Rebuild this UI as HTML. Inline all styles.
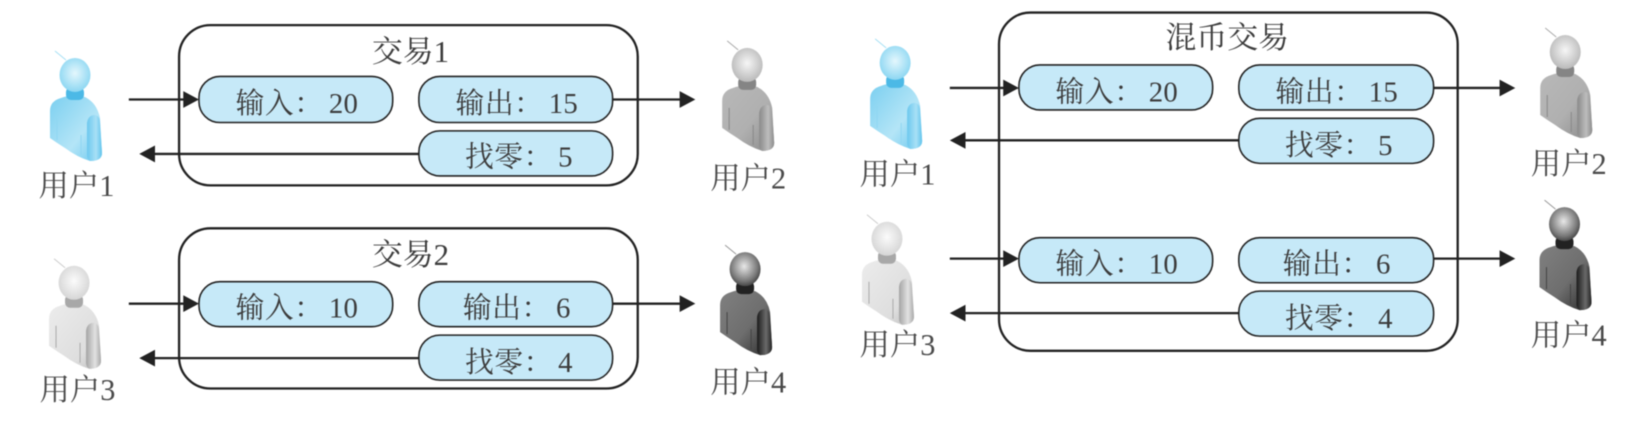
<!DOCTYPE html>
<html><head><meta charset="utf-8"><style>
html,body{margin:0;padding:0;background:#fff;width:1642px;height:435px;overflow:hidden}
svg{display:block;filter:blur(.45px)}
text{font-family:"Liberation Serif","Noto Serif CJK SC",serif;fill:#3c3c3c}
.l{font-size:27.5px}
.u{font-size:29px;fill:#4a4a4a;text-anchor:middle}
.t{font-size:29.5px;text-anchor:middle}
.c{fill:none;stroke:#222;stroke-width:2.2}
.p{fill:#c6e9f8;stroke:#222;stroke-width:1.5}
.a{stroke:#222;stroke-width:2.2;fill:none}
.h{fill:#222}
</style></head><body>
<svg width="1642" height="435" viewBox="0 0 1568 415.4" xmlns="http://www.w3.org/2000/svg">
<defs>
<radialGradient id="bh" cx=".5" cy=".45" r=".6"><stop offset="0" stop-color="#e4f7fd"/><stop offset="1" stop-color="#85d4f1"/></radialGradient>
<linearGradient id="bb" x1="0" y1="0" x2="1" y2="1"><stop offset="0" stop-color="#7bcff0"/><stop offset=".6" stop-color="#b4e5f7"/><stop offset="1" stop-color="#6cc8ee"/></linearGradient>
<linearGradient id="ba" x1="0" y1="0" x2="1" y2="0"><stop offset="0" stop-color="#6cc8ee"/><stop offset=".6" stop-color="#a8e0f6"/><stop offset="1" stop-color="#62c4ec"/></linearGradient>
<radialGradient id="gh" cx=".5" cy=".45" r=".6"><stop offset="0" stop-color="#f6f6f6"/><stop offset="1" stop-color="#b4b4b4"/></radialGradient>
<linearGradient id="gb" x1="0" y1="0" x2="1" y2="1"><stop offset="0" stop-color="#b8b8b8"/><stop offset=".55" stop-color="#b0b0b0"/><stop offset="1" stop-color="#8a8a8a"/></linearGradient>
<linearGradient id="ga" x1="0" y1="0" x2="1" y2="0"><stop offset="0" stop-color="#8a8a8a"/><stop offset=".6" stop-color="#bdbdbd"/><stop offset="1" stop-color="#8c8c8c"/></linearGradient>
<radialGradient id="lh" cx=".5" cy=".45" r=".6"><stop offset="0" stop-color="#fbfbfb"/><stop offset="1" stop-color="#d2d2d2"/></radialGradient>
<linearGradient id="lb" x1="0" y1="0" x2="1" y2="1"><stop offset="0" stop-color="#ececec"/><stop offset=".7" stop-color="#dedede"/><stop offset="1" stop-color="#bcbcbc"/></linearGradient>
<linearGradient id="la" x1="0" y1="0" x2="1" y2="0"><stop offset="0" stop-color="#a4a4a4"/><stop offset=".6" stop-color="#e2e2e2"/><stop offset="1" stop-color="#a8a8a8"/></linearGradient>
<radialGradient id="dh" cx=".47" cy=".42" r=".62"><stop offset="0" stop-color="#e8e8e8"/><stop offset=".7" stop-color="#787878"/><stop offset="1" stop-color="#3a3a3a"/></radialGradient>
<linearGradient id="db" x1="0" y1="0" x2="1" y2="1"><stop offset="0" stop-color="#808080"/><stop offset=".55" stop-color="#6e6e6e"/><stop offset="1" stop-color="#2a2a2a"/></linearGradient>
<linearGradient id="da" x1="0" y1="0" x2="1" y2="0"><stop offset="0" stop-color="#1c1c1c"/><stop offset=".6" stop-color="#6a6a6a"/><stop offset="1" stop-color="#222"/></linearGradient>

<path id="body" d="M-25,36 Q-25,26 -14,23 Q-6,20 0,21 L10,22 Q22,28 25,43 L27,78 Q27,86 15,86 Q2,82 -10,73 Q-18,68 -25,63 Z"/>
<path id="arm" d="M12,48 Q13,40 20,40 Q25,41 25,48 L27,78 Q27,86 15,86 Q12,84 12,80 Z"/>
<path id="seam" d="M-18,43V65M6,60V80" fill="none" stroke-width="1"/>
<g id="pb">
<line x1="-20" y1="-24" x2="-9" y2="-15" stroke="#a6e0f4" stroke-width="1"/>
<use href="#body" fill="url(#bb)"/><use href="#arm" fill="url(#ba)"/>
<use href="#seam" stroke="#8fd6f2"/>
<rect x="-9" y="12" width="18" height="13" rx="5" fill="#4cb9e6"/>
<ellipse cx="0" cy="0" rx="15.5" ry="17" fill="url(#bh)"/>
</g>
<g id="pg">
<line x1="-20" y1="-24" x2="-9" y2="-15" stroke="#aaa" stroke-width="1"/>
<use href="#body" fill="url(#gb)"/><use href="#arm" fill="url(#ga)"/>
<use href="#seam" stroke="#888"/>
<rect x="-9" y="12" width="18" height="13" rx="5" fill="#858585"/>
<ellipse cx="0" cy="0" rx="15.5" ry="17" fill="url(#gh)"/>
</g>
<g id="pl">
<line x1="-20" y1="-24" x2="-9" y2="-15" stroke="#ccc" stroke-width="1"/>
<use href="#body" fill="url(#lb)"/><use href="#arm" fill="url(#la)"/>
<use href="#seam" stroke="#aaa"/>
<rect x="-9" y="12" width="18" height="13" rx="5" fill="#a8a8a8"/>
<ellipse cx="0" cy="0" rx="15.5" ry="17" fill="url(#lh)"/>
</g>
<g id="pd">
<line x1="-20" y1="-24" x2="-9" y2="-15" stroke="#999" stroke-width="1"/>
<use href="#body" fill="url(#db)"/><use href="#arm" fill="url(#da)"/>
<use href="#seam" stroke="#444"/>
<rect x="-9" y="12" width="18" height="13" rx="5" fill="#222"/>
<ellipse cx="0" cy="0" rx="15.5" ry="17" fill="url(#dh)"/>
</g>
</defs>

<!-- Left top -->
<rect class="c" x="171" y="24" width="438" height="153" rx="30"/>
<rect class="p" x="190" y="73" width="185" height="44" rx="20"/>
<rect class="p" x="400" y="73" width="185" height="44" rx="20"/>
<rect class="p" x="400" y="125" width="185" height="43" rx="20"/>
<text class="t" x="392" y="59">交易1</text>
<text class="l" x="225 253 281 314 328" y="108">输入：20</text>
<text class="l" x="435 463 491 524 538" y="108">输出：15</text>
<text class="l" x="444 472 500 533" y="159">找零：5</text>
<path class="a" d="M123,95H176M585,95H650M400,147H147"/>
<path class="h" d="M190,95l-15,-8v16zM664,95l-15,-8v16zM133,147l15,-8v16z"/>

<!-- Left bottom -->
<rect class="c" x="171" y="218" width="438" height="153" rx="30"/>
<rect class="p" x="190" y="269" width="185" height="43" rx="20"/>
<rect class="p" x="400" y="269" width="185" height="43" rx="20"/>
<rect class="p" x="400" y="320" width="185" height="43" rx="20"/>
<text class="t" x="392" y="253">交易2</text>
<text class="l" x="225 253 281 314 328" y="303">输入：10</text>
<text class="l" x="442 470 498 531" y="303">输出：6</text>
<text class="l" x="444 472 500 533" y="355">找零：4</text>
<path class="a" d="M123,290H176M585,290H650M400,342H147"/>
<path class="h" d="M190,290l-15,-8v16zM664,290l-15,-8v16zM133,342l15,-8v16z"/>

<!-- Right -->
<rect class="c" x="954" y="12" width="438" height="323" rx="30"/>
<rect class="p" x="973" y="62" width="185" height="43" rx="20"/>
<rect class="p" x="1183" y="62" width="186" height="43" rx="20"/>
<rect class="p" x="1183" y="113" width="186" height="43" rx="20"/>
<rect class="p" x="973" y="227" width="185" height="43" rx="20"/>
<rect class="p" x="1183" y="227" width="186" height="43" rx="20"/>
<rect class="p" x="1183" y="278" width="186" height="43" rx="20"/>
<text class="t" x="1172" y="46">混币交易</text>
<text class="l" x="1008 1036 1064 1097 1111" y="97">输入：20</text>
<text class="l" x="1218 1246 1274 1307 1321" y="97">输出：15</text>
<text class="l" x="1227 1255 1283 1316" y="148">找零：5</text>
<text class="l" x="1008 1036 1064 1097 1111" y="261">输入：10</text>
<text class="l" x="1225 1253 1281 1314" y="261">输出：6</text>
<text class="l" x="1227 1255 1283 1316" y="313">找零：4</text>
<path class="a" d="M907,84H960M1369,84H1434M1183,134H921M907,247H960M1369,247H1434M1183,299H921"/>
<path class="h" d="M973,84l-15,-8v16zM1447,84l-15,-8v16zM907,134l15,-8v16zM973,247l-15,-8v16zM1447,247l-15,-8v16zM907,299l15,-8v16z"/>

<!-- People -->
<use href="#pb" transform="translate(71.6,71.6) scale(.955)"/>
<use href="#pg" transform="translate(713.5,62) scale(.955)"/>
<use href="#pl" transform="translate(70.7,270) scale(.955)"/>
<use href="#pd" transform="translate(711.5,257) scale(.955)"/>
<use href="#pb" transform="translate(854.8,60) scale(.955)"/>
<use href="#pg" transform="translate(1494.7,49.7) scale(.955)"/>
<use href="#pl" transform="translate(847,228) scale(.955)"/>
<use href="#pd" transform="translate(1494,214) scale(.955)"/>

<text class="u" x="73" y="187">用户1</text>
<text class="u" x="714.5" y="180">用户2</text>
<text class="u" x="74" y="382">用户3</text>
<text class="u" x="714.5" y="375">用户4</text>
<text class="u" x="857" y="176">用户1</text>
<text class="u" x="1498" y="166">用户2</text>
<text class="u" x="857" y="339">用户3</text>
<text class="u" x="1498" y="330">用户4</text>
</svg>
</body></html>
